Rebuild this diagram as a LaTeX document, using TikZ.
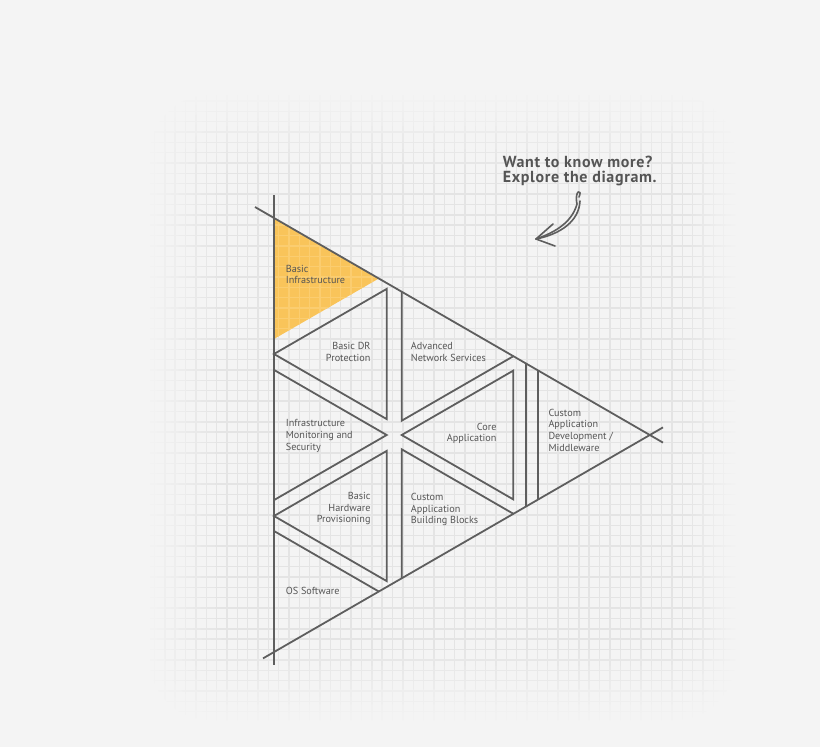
\documentclass[tikz,border=0pt]{standalone}
\usepackage{fontspec}
\setmainfont{PT Sans}
\newfontfamily\notefont[LetterSpace=4]{PT Sans}
\definecolor{bgc}{HTML}{F4F4F4}
\definecolor{gridc}{HTML}{E4E4E4}
\definecolor{linec}{HTML}{5E5E5E}
\definecolor{textc}{HTML}{555555}
\definecolor{yel}{HTML}{F9C45A}
\definecolor{yelgrid}{HTML}{FBCD70}
\begin{document}
\begin{tikzpicture}[x=1pt,y=-1pt,
  edge/.style={draw=linec, line width=1.8pt, line join=miter, line cap=butt},
  lbl/.style={text=textc, font=\fontsize{10.2}{11.7}\selectfont, inner sep=0pt},
  note/.style={text=textc, font=\notefont\bfseries\fontsize{16}{15.7}\selectfont, inner sep=0pt, align=left, anchor=west},
  arrowline/.style={draw=linec, line width=1.6pt, line cap=round, line join=round}]
\useasboundingbox (0,0) rectangle (820,747);
\fill[bgc] (0,0) rectangle (820,747);
% grid, stronger towards the middle (nested levels)
\foreach \k in {0,...,9} {
  \pgfmathsetmacro\xa{150+65*\k/9}
  \pgfmathsetmacro\ya{95+70*\k/9}
  \pgfmathsetmacro\xb{735-45*\k/9}
  \pgfmathsetmacro\yb{720-70*\k/9}
  \pgfmathsetmacro\rr{60-30*\k/9}
  \pgfmathtruncatemacro\pc{10+90*\k/9}
  \begin{scope}
    \clip[rounded corners=\rr pt] (\xa,\ya) rectangle (\xb,\yb);
    \foreach \j in {-11,...,44} {\draw[draw=gridc!\pc!bgc, line width=1.4pt] ({268.3+10.35*\j},90) -- ({268.3+10.35*\j},725);}
    \foreach \j in {-46,...,15} {\draw[draw=gridc!\pc!bgc, line width=1.4pt] (145,{566.7+10.35*\j}) -- (740,{566.7+10.35*\j});}
  \end{scope}
}
% yellow corner triangle with its own light grid
\begin{scope}
\clip (274,218) -- (274,339) -- (378.8,278.5) -- cycle;
\fill[yel] (270,210) rectangle (390,345);
\foreach \k in {0,...,11} {\draw[draw=yelgrid, line width=1.4pt] ({268.3+10.35*\k},200) -- ({268.3+10.35*\k},350);}
\foreach \k in {-34,...,-21} {\draw[draw=yelgrid, line width=1.4pt] (260,{566.7+10.35*\k}) -- (400,{566.7+10.35*\k});}
\end{scope}
% outer triangle lines
\draw[edge, line width=2pt] (274,195) -- (274,665);
\draw[edge] (255,207) -- (663,442.6);
\draw[edge] (263,658.4) -- (663,427.4);
% inner triangles
\draw[edge] (274,354) -- (386.7,288.9) -- (386.7,419.1) -- cycle;
\draw[edge] (274,369.9) -- (386.7,435) -- (274,500.1);
\draw[edge] (274,516) -- (386.7,450.9) -- (386.7,581.1) -- cycle;
\draw[edge] (401.7,291.7) -- (401.7,420.7) -- (513.4,356.2);
\draw[edge] (401.7,435) -- (513.3,370.6) -- (513.3,499.4) -- cycle;
\draw[edge] (401.7,578.3) -- (401.7,449.3) -- (513.4,513.8);
\draw[edge] (526,363.5) -- (526,506.5);
\draw[edge] (538.3,370.6) -- (538.3,499.4);
\draw[edge] (274,531) -- (378.8,591.5);
% labels
\node[lbl, align=left, anchor=west] (binfra) at (285.7,274.5) {Basic\\Infrastructure};
\node[lbl, align=right, anchor=east] (bdr) at (370.7,352) {Basic DR\\Protection};
\node[lbl, align=left, anchor=west] (adv) at (410.7,352) {Advanced\\Network Services};
\node[lbl, align=left, anchor=west] (imon) at (285.7,436) {Infrastructure\\Monitoring and\\Security};
\node[lbl, align=right, anchor=east] (core) at (496.7,433.5) {Core\\Application};
\node[lbl, align=right, anchor=east] (bhw) at (370.7,508.6) {Basic\\Hardware\\Provisioning};
\node[lbl, align=left, anchor=west] (cabb) at (410.7,509.5) {Custom\\Application\\Building Blocks};
\node[lbl, anchor=west] (os) at (285.7,591) {OS Software};
\node[lbl, align=left, anchor=west] (cadm) at (548.3,430) {Custom\\Application\\Development /\\Middleware};
% annotation
\node[note] (more) at (502.7,171) {Want to know more?\\Explore the diagram.};
\coordinate (arrtop) at (579,197);
\coordinate (arrtip) at (536,239);
\draw[arrowline] (arrtop) .. controls (583,189) and (574,189) .. (577,204) .. controls (572,222) and (556,232) .. (arrtip);
\draw[arrowline] (580,201) .. controls (579,221) and (561,234) .. (arrtip);
\draw[arrowline] (553,224) -- (arrtip) -- (555,246);
\end{tikzpicture}
\end{document}
